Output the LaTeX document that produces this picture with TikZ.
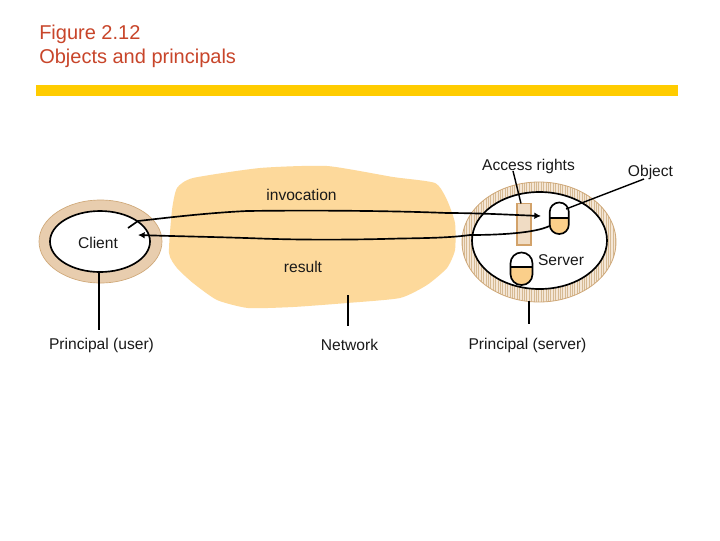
\documentclass[tikz,border=0pt]{standalone}
\usepackage{fontspec}
\setmainfont{Liberation Sans}
\usetikzlibrary{arrows.meta}
\definecolor{titlec}{HTML}{C8452A}
\definecolor{barc}{HTML}{FFCC00}
\definecolor{netc}{HTML}{FDD99B}
\definecolor{ringc}{HTML}{E8CDAE}
\definecolor{ringb}{HTML}{CFA878}
\definecolor{hatchc}{HTML}{C9A36F}
\definecolor{capc}{HTML}{FBCF8A}
\definecolor{rightc}{HTML}{F0DCC4}
\definecolor{rightb}{HTML}{D2A26A}
\tikzset{
  lab/.style={font=\fontsize{11.7pt}{13pt}\selectfont,inner sep=0pt,text=black!90},
  titletext/.style={font=\fontsize{15pt}{18pt}\selectfont,inner sep=0pt,text=titlec,align=left,anchor=north west},
  wire/.style={draw=black,line width=1.25pt},
  thinwire/.style={draw=black,line width=1.05pt},
  ctip/.style={-{Latex[length=5pt,width=5pt]}}
}
\begin{document}
\begin{tikzpicture}[x=0.75pt,y=-0.75pt]
\useasboundingbox (0,0) rectangle (720,540);
\fill[white] (0,0) rectangle (720,540);
\node[titletext] (title) at (39,24.5) {Figure 2.12\\Objects and principals};
\fill[barc] (36,85) rectangle (678,96);
% network
\fill[netc] plot[smooth cycle,tension=0.35] coordinates {(177,188) (193,178) (260,168) (327,166) (393,177) (435,183) (447,200) (455,223) (455,250) (447,268) (427,285) (400,298) (347,303) (293,307) (248,308) (217,300) (193,283) (177,268) (169,253) (172,210)};
% client
\fill[ringc] (100.5,241.5) ellipse [x radius=61.5,y radius=41.5];
\draw[ringb,line width=0.5pt] (100.5,241.5) ellipse [x radius=61.5,y radius=41.5];
\fill[white] (100,241.5) ellipse [x radius=50,y radius=30.5];
\draw[black,line width=1.25pt] (100,241.5) ellipse [x radius=50,y radius=30.5];
\node[lab] (client) at (98,243) {Client};
% server ring
\begin{scope}
  \clip (539,242) ellipse [x radius=77,y radius=60];
  \fill[ringc!50!white] (462,182) rectangle (616,302);
  \foreach \x in {462,464.4,...,618} {\draw[hatchc!75!white,line width=0.65pt] (\x,182) -- (\x,302);}
\end{scope}
\draw[ringb,line width=0.6pt] (539,242) ellipse [x radius=77,y radius=60];
\fill[white] (539.5,240.5) ellipse [x radius=67.5,y radius=48.5];
\draw[black,line width=1.25pt] (539.5,240.5) ellipse [x radius=67.5,y radius=48.5];
% access rights
\draw[rightb,fill=rightc,line width=0.8pt] (517,203.5) rectangle (531,245);
% object capsule
\begin{scope}
  \clip (545,218) rectangle (575,240);
  \fill[capc,rounded corners=7.1pt] (549.7,202.5) rectangle (568.8,234);
\end{scope}
\draw[black,line width=1.25pt,rounded corners=7.1pt] (549.7,202.5) rectangle (568.8,234);
\draw[black,line width=1.25pt] (549.7,218) -- (568.8,218);
% server capsule
\begin{scope}
  \clip (505,267) rectangle (540,290);
  \fill[capc,rounded corners=8.1pt] (510.5,252.5) rectangle (532.5,285);
\end{scope}
\draw[black,line width=1.25pt,rounded corners=8.1pt] (510.5,252.5) rectangle (532.5,285);
\draw[black,line width=1.25pt] (510.5,267) -- (532.5,267);
\node[lab] (server) at (561,260.5) {Server};
% labels
\node[lab] (inv) at (301.5,195) {invocation};
\node[lab] (res) at (303,266.5) {result};
\node[lab] (puser) at (101.5,345.5) {Principal (user)};
\node[lab] (net) at (349.5,344.5) {Network};
\node[lab] (pserver) at (527.5,345.5) {Principal (server)};
\node[lab] (access) at (528.5,166.5) {Access rights};
\node[lab] (object) at (650.5,172.5) {Object};
% coordinates
\coordinate (a1) at (128,228);
\coordinate (a2) at (138,221);
\coordinate (a3) at (541,216);
\coordinate (b1) at (549.5,226);
\coordinate (b2) at (138,235);
\coordinate (l1) at (99,272);
\coordinate (l2) at (99,330);
\coordinate (n1) at (348,295);
\coordinate (n2) at (348,326);
\coordinate (s1) at (529,301);
\coordinate (s2) at (529,324);
\coordinate (r1) at (513,171);
\coordinate (r2) at (521,203.5);
\coordinate (o1) at (644,179);
\coordinate (o2) at (566,209);
% connectors
\draw[wire,ctip] (a1) -- (a2) .. controls (165,218) and (205,213) .. (247,211) .. controls (320,210) and (400,211) .. (447,213) .. controls (480,213) and (515,215) .. (a3);
\draw[wire,ctip] (b1) .. controls (535,233) and (500,235) .. (470,235) .. controls (455,237) and (440,238) .. (400,238.5) .. controls (350,240) and (300,240) .. (260,238.5) .. controls (220,237) and (185,236.5) .. (b2);
\draw[thinwire] (l1) -- (l2);
\draw[thinwire] (n1) -- (n2);
\draw[thinwire] (s1) -- (s2);
\draw[thinwire] (r1) -- (r2);
\draw[thinwire] (o1) -- (o2);
\end{tikzpicture}
\end{document}
